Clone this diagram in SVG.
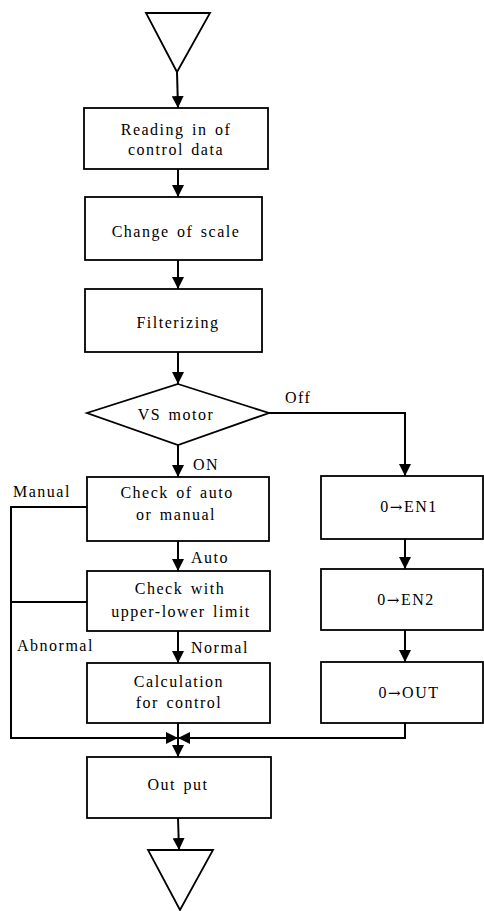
<svg xmlns="http://www.w3.org/2000/svg" width="484" height="911" viewBox="0 0 484 911">
<style>
.box{fill:#fff;stroke:#000;stroke-width:1.8}
.t{font-family:"Liberation Serif","Times New Roman",serif;font-size:16px;letter-spacing:1.5px;word-spacing:2px;fill:#000;text-anchor:middle}
.l{font-family:"Liberation Serif","Times New Roman",serif;font-size:16px;letter-spacing:1.5px;fill:#000}
.ar{font-family:"DejaVu Serif",serif;font-size:15px}
.c{fill:none;stroke:#000;stroke-width:2}
</style>
<defs>
<marker id="ah" viewBox="0 0 12 12" refX="12" refY="6" markerWidth="12" markerHeight="12" orient="auto" markerUnits="userSpaceOnUse">
<path d="M0,0 L12,6 L0,12 z" fill="#000"/>
</marker>
</defs>
<rect width="484" height="911" fill="#fff"/>
<g id="connectors">
<path class="c" d="M177,72 L178,108" marker-end="url(#ah)"/>
<path class="c" d="M178,169 L178,197" marker-end="url(#ah)"/>
<path class="c" d="M178,260 L178,289" marker-end="url(#ah)"/>
<path class="c" d="M178,352 L178,384" marker-end="url(#ah)"/>
<path class="c" d="M178,445 L178,477" marker-end="url(#ah)"/>
<path class="c" d="M269,413 L405,413 L405,476" marker-end="url(#ah)"/>
<path class="c" d="M405,539 L405,569" marker-end="url(#ah)"/>
<path class="c" d="M405,630 L405,662" marker-end="url(#ah)"/>
<path class="c" d="M178,541 L178,571" marker-end="url(#ah)"/>
<path class="c" d="M178,631 L178,663" marker-end="url(#ah)"/>
<path class="c" d="M87,507 L11,507 L11,738 L178,738" marker-end="url(#ah)"/>
<path class="c" d="M87,602 L11,602"/>
<path class="c" d="M405,723 L405,738 L178,738" marker-end="url(#ah)"/>
<path class="c" d="M178,723 L178,757" marker-end="url(#ah)"/>
<path class="c" d="M178,818 L179,850" marker-end="url(#ah)"/>
<text class="l" x="193" y="470">ON</text>
<text class="l" x="285" y="403">Off</text>
<text class="l" x="13" y="497">Manual</text>
<text class="l" x="191" y="563">Auto</text>
<text class="l" x="17" y="651">Abnormal</text>
<text class="l" x="191" y="653">Normal</text>
</g>
<g id="start">
<polygon class="box" points="146,13 210,13 177,72"/>
</g>
<g id="reading">
<rect class="box" x="84" y="108" width="184" height="61"/>
<text class="t" x="176" y="135">Reading in of</text>
<text class="t" x="176" y="155">control data</text>
</g>
<g id="scale">
<rect class="box" x="85" y="197" width="177" height="63"/>
<text class="t" x="176" y="237">Change of scale</text>
</g>
<g id="filter">
<rect class="box" x="85" y="289" width="177" height="63"/>
<text class="t" x="178" y="328">Filterizing</text>
</g>
<g id="vsmotor">
<polygon class="box" points="178,384 269,413 178,445 87,413"/>
<text class="t" x="176" y="420">VS motor</text>
</g>
<g id="automanual">
<rect class="box" x="87" y="477" width="182" height="64"/>
<text class="t" x="177" y="498">Check of auto</text>
<text class="t" x="176" y="520">or manual</text>
</g>
<g id="limit">
<rect class="box" x="87" y="571" width="183" height="60"/>
<text class="t" x="180" y="594">Check with</text>
<text class="t" x="181" y="617">upper-lower limit</text>
</g>
<g id="calc">
<rect class="box" x="87" y="663" width="183" height="60"/>
<text class="t" x="179" y="687">Calculation</text>
<text class="t" x="179" y="708">for control</text>
</g>
<g id="en1">
<rect class="box" x="321" y="476" width="162" height="63"/>
<text class="t" x="409" y="512">0<tspan class="ar">→</tspan>EN1</text>
</g>
<g id="en2">
<rect class="box" x="321" y="569" width="162" height="61"/>
<text class="t" x="406" y="605">0<tspan class="ar">→</tspan>EN2</text>
</g>
<g id="out">
<rect class="box" x="321" y="662" width="162" height="61"/>
<text class="t" x="409" y="698">0<tspan class="ar">→</tspan>OUT</text>
</g>
<g id="output">
<rect class="box" x="87" y="757" width="184" height="61"/>
<text class="t" x="178" y="790">Out put</text>
</g>
<g id="end">
<polygon class="box" points="148,850 213,850 180,910"/>
</g>
</svg>
